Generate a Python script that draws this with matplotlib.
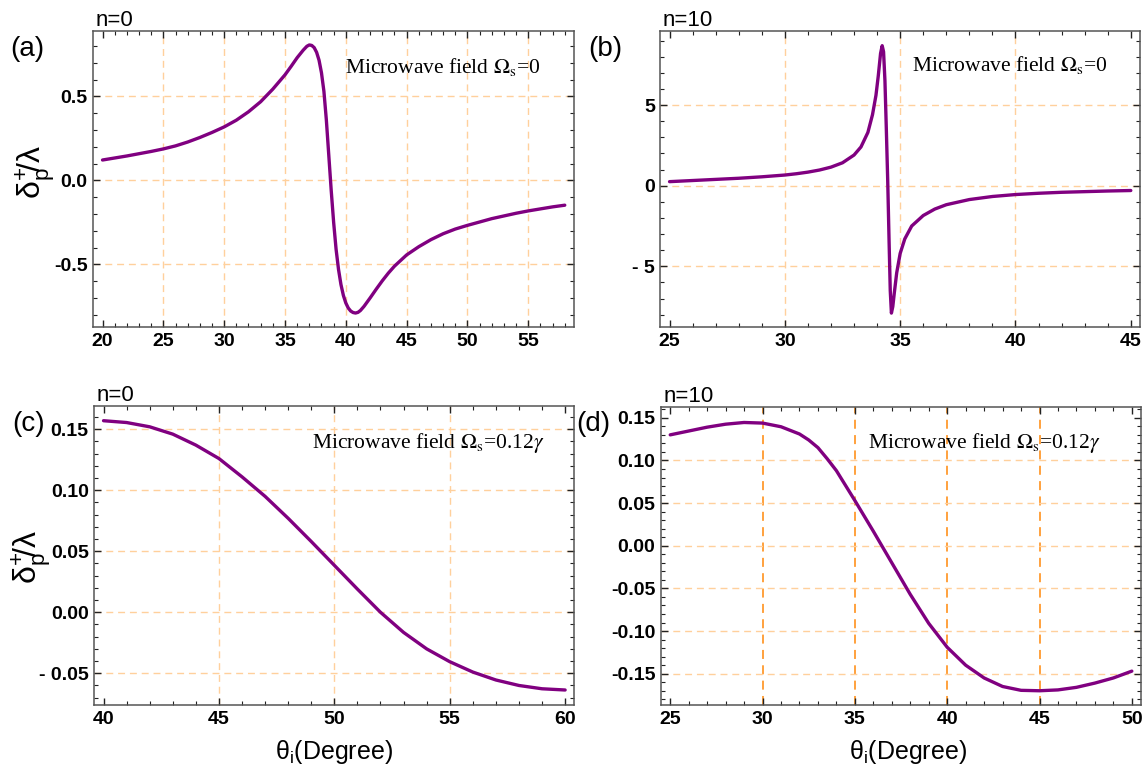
import numpy as np
import matplotlib
matplotlib.use("Agg")
import matplotlib.pyplot as plt
from matplotlib.ticker import MultipleLocator

plt.rcParams['font.family'] = ['Liberation Sans', 'DejaVu Sans']
plt.rcParams['mathtext.fontset'] = 'custom'
plt.rcParams['mathtext.rm'] = 'Liberation Sans'
plt.rcParams['mathtext.it'] = 'Liberation Sans:italic'
plt.rcParams['mathtext.bf'] = 'Liberation Sans:bold'

# ---- panel (a): n=0, no microwave field
thetaA = [20, 22, 24, 25, 26, 27, 28, 29, 30, 31, 32, 33, 34, 35, 35.5, 36, 36.5,
          36.8, 37.0, 37.2, 37.4, 37.6, 37.8, 38.0, 38.2, 38.4, 38.6, 38.8, 39.0,
          39.2, 39.4, 39.6, 39.8, 40.0, 40.2, 40.4, 40.6, 40.8, 41.0, 41.2, 41.5,
          42, 42.5, 43, 43.5, 44, 45, 46, 47, 48, 49, 50, 51, 52, 53, 54, 55, 56,
          57, 58]
deltaA = [0.121, 0.145, 0.172, 0.187, 0.205, 0.228, 0.255, 0.285, 0.318, 0.358,
          0.408, 0.468, 0.543, 0.628, 0.678, 0.730, 0.775, 0.798, 0.806, 0.803,
          0.790, 0.762, 0.715, 0.640, 0.530, 0.360, 0.150, -0.060, -0.250, -0.410,
          -0.530, -0.620, -0.685, -0.730, -0.760, -0.778, -0.787, -0.790, -0.786,
          -0.775, -0.750, -0.700, -0.648, -0.598, -0.552, -0.511, -0.444, -0.395,
          -0.353, -0.318, -0.290, -0.268, -0.248, -0.228, -0.212, -0.196, -0.182,
          -0.170, -0.158, -0.148]

# ---- panel (b): n=10, no microwave field
thetaB = [25.0, 26.0, 27.0, 28.0, 29.0, 30.0, 30.5, 31.0, 31.5, 32.0, 32.5, 33.0,
          33.3, 33.6, 33.8, 33.95, 34.05, 34.15, 34.22, 34.28, 34.34, 34.40, 34.46,
          34.52, 34.57, 34.62, 34.68, 34.75, 34.85, 35.0, 35.2, 35.5, 36.0, 36.5,
          37.0, 38.0, 39.0, 40.0, 41.0, 42.0, 43.0, 44.0, 45.0]
deltaB = [0.25, 0.32, 0.39, 0.46, 0.55, 0.66, 0.74, 0.84, 0.97, 1.15, 1.42, 1.90,
          2.40, 3.30, 4.40, 5.60, 6.80, 8.20, 8.68, 8.30, 6.50, 3.50, 0.30, -3.50,
          -6.50, -7.90, -7.50, -6.60, -5.40, -4.20, -3.30, -2.50, -1.85, -1.45,
          -1.18, -0.86, -0.67, -0.55, -0.47, -0.41, -0.37, -0.33, -0.30]

# ---- panel (c): n=0, microwave field 0.12 gamma
thetaC = [40, 41, 42, 43, 44, 45, 46, 47, 48, 49, 50, 51, 52, 53, 54, 55, 56, 57,
          58, 59, 60]
deltaC = [0.157, 0.1555, 0.152, 0.146, 0.137, 0.126, 0.111, 0.095, 0.077, 0.058,
          0.0385, 0.019, 0.0, -0.0165, -0.030, -0.0405, -0.049, -0.0555, -0.060,
          -0.0627, -0.0637]

# ---- panel (d): n=10, microwave field 0.12 gamma
thetaD = [25, 26, 27, 28, 29, 30, 31, 32, 32.5, 33, 33.5, 34, 35, 36, 37, 38, 39,
          40, 41, 42, 43, 44, 45, 46, 47, 48, 49, 50]
deltaD = [0.130, 0.1345, 0.139, 0.1425, 0.1445, 0.1438, 0.1395, 0.131, 0.124,
          0.115, 0.102, 0.088, 0.053, 0.017, -0.020, -0.057, -0.091, -0.119,
          -0.140, -0.155, -0.165, -0.1695, -0.170, -0.169, -0.166, -0.161, -0.155,
          -0.147]

panels = [
    dict(x=thetaA, y=deltaA, box=[0.0816, 0.5759, 0.4206, 0.3839],
         xlim=(19.24, 58.76), ylim=(-0.873, 0.889),
         xticks=[20, 25, 30, 35, 40, 45, 50, 55],
         yticks=[-0.5, 0.0, 0.5], ylabels=['-0.5', '0.0', '0.5'],
         xgrid=[25, 30, 35, 40, 45, 50, 55], ygrid=[-0.5, 0.0, 0.5],
         xminor=1, yminor=0.1, n='n=0',
         note=r'Microwave field $\Omega_{\rm s}$=0', note_x=0.524, note_y=0.858,
         vcolor='#FFD09C', vlw=1.0),
    dict(x=thetaB, y=deltaB, box=[0.5777, 0.5759, 0.4197, 0.3839],
         xlim=(24.6, 45.4), ylim=(-8.76, 9.59),
         xticks=[25, 30, 35, 40, 45],
         yticks=[-5, 0, 5], ylabels=['- 5', '0', '5'],
         xgrid=[30, 35, 40], ygrid=[-5, 0, 5],
         xminor=1, yminor=1, n='n=10',
         note=r'Microwave field $\Omega_{\rm s}$=0', note_x=0.524, note_y=0.866,
         vcolor='#FFD09C', vlw=1.0),
    dict(x=thetaC, y=deltaC, box=[0.0825, 0.0856, 0.4200, 0.3882],
         xlim=(39.6, 60.4), ylim=(-0.076, 0.1693),
         xticks=[40, 45, 50, 55, 60],
         yticks=[-0.05, 0.0, 0.05, 0.10, 0.15],
         ylabels=['- 0.05', '0.00', '0.05', '0.10', '0.15'],
         xgrid=[45, 50, 55], ygrid=[-0.05, 0.0, 0.05, 0.10, 0.15],
         xminor=1, yminor=0.01, n='n=0',
         note=r'Microwave field $\Omega_{\rm s}$=0.12$\gamma$', note_x=0.453, note_y=0.859,
         vcolor='#FFD09C', vlw=1.0),
    dict(x=thetaD, y=deltaD, box=[0.5783, 0.0856, 0.4200, 0.3869],
         xlim=(24.5, 50.5), ylim=(-0.1867, 0.163),
         xticks=[25, 30, 35, 40, 45, 50],
         yticks=[-0.15, -0.10, -0.05, 0.0, 0.05, 0.10, 0.15],
         ylabels=['-0.15', '-0.10', '-0.05', '0.00', '0.05', '0.10', '0.15'],
         xgrid=[30, 35, 40, 45], ygrid=[-0.15, -0.10, -0.05, 0.0, 0.05, 0.10],
         xminor=1, yminor=0.01, n='n=10',
         note=r'Microwave field $\Omega_{\rm s}$=0.12$\gamma$', note_x=0.432, note_y=0.862,
         vcolor='#FF9A2E', vlw=1.3),
]

fig = plt.figure(figsize=(11.43, 7.71), dpi=100)

for p in panels:
    ax = fig.add_axes(p['box'])
    for g in p['xgrid']:
        ax.axvline(g, color=p['vcolor'], lw=p['vlw'], ls=(0, (5, 3.5)), zorder=1)
    for g in p['ygrid']:
        ax.axhline(g, color='#FFD09C', lw=1.0, ls=(0, (5, 3.5)), zorder=1)
    ax.plot(p['x'], p['y'], color='#800080', lw=2.4, zorder=3,
            solid_joinstyle='round', solid_capstyle='round')
    ax.set_xlim(p['xlim'])
    ax.set_ylim(p['ylim'])
    ax.set_xticks(p['xticks'])
    ax.set_xticklabels([str(t) for t in p['xticks']])
    ax.set_yticks(p['yticks'])
    ax.set_yticklabels(p['ylabels'])
    ax.xaxis.set_minor_locator(MultipleLocator(p['xminor']))
    ax.yaxis.set_minor_locator(MultipleLocator(p['yminor']))
    ax.tick_params(which='both', direction='in', top=True, right=True, color='#222222')
    ax.tick_params(which='major', length=5, width=1.0, labelsize=14, pad=4)
    ax.tick_params(which='minor', length=3, width=0.8)
    for lab in ax.get_xticklabels() + ax.get_yticklabels():
        lab.set_fontweight('bold')
    for s in ax.spines.values():
        s.set_color('#555555')
        s.set_linewidth(1.1)
    ax.text(0.005, 1.017, p['n'], transform=ax.transAxes, fontsize=16,
            ha='left', va='baseline')
    ax.text(p['note_x'], p['note_y'], p['note'], transform=ax.transAxes,
            family='Liberation Serif', math_fontfamily='stix', fontsize=15.5,
            ha='left', va='baseline')

# panel tags
fig.text(10 / 1143, 1 - 56 / 771, '(a)', fontsize=20, va='baseline')
fig.text(588 / 1143, 1 - 56 / 771, '(b)', fontsize=20, va='baseline')
fig.text(12 / 1143, 1 - 431 / 771, '(c)', fontsize=20, va='baseline')
fig.text(576 / 1143, 1 - 431 / 771, '(d)', fontsize=20, va='baseline')

# axis labels
ylab = r'$\mathrm{\delta_p^{{+}}\!/\lambda}$'
fig.text(36 / 1143, 1 - 172 / 771, ylab, fontsize=23, rotation=90, ha='center', va='center')
fig.text(32 / 1143, 1 - 557 / 771, ylab, fontsize=23, rotation=90, ha='center', va='center')
xlab = r'$\mathrm{\theta_i}$(Degree)'
fig.text(334 / 1143, 1 - 752 / 771, xlab, fontsize=18, ha='center', va='center')
fig.text(908 / 1143, 1 - 752 / 771, xlab, fontsize=18, ha='center', va='center')

fig.savefig('out.png', dpi=100)
